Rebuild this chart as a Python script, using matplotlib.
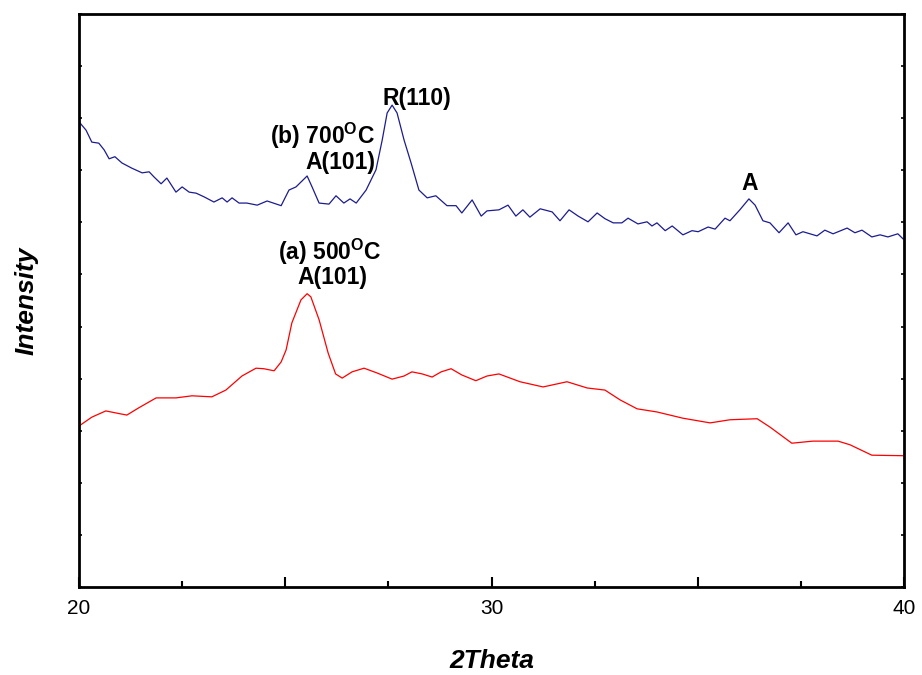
import matplotlib.pyplot as plt
from matplotlib.ticker import MultipleLocator, NullFormatter

plt.rcParams['font.family'] = ['Liberation Sans', 'DejaVu Sans']
plt.rcParams['mathtext.fontset'] = 'custom'
plt.rcParams['mathtext.bf'] = 'Liberation Sans:bold'
plt.rcParams['mathtext.rm'] = 'Liberation Sans:bold'

# (b) 700 C sample
theta_b = [20.00, 20.17, 20.31, 20.48, 20.61, 20.73, 20.87, 21.04, 21.28, 21.53,
           21.70, 21.82, 21.99, 22.13, 22.35, 22.50, 22.67, 22.84, 23.03, 23.27,
           23.47, 23.59, 23.71, 23.88, 24.07, 24.32, 24.56, 24.90, 25.09, 25.26,
           25.53, 25.65, 25.82, 26.06, 26.23, 26.42, 26.57, 26.72, 26.96, 27.20,
           27.35, 27.47, 27.59, 27.71, 27.88, 28.05, 28.24, 28.44, 28.65, 28.92,
           29.14, 29.28, 29.53, 29.75, 29.89, 30.18, 30.40, 30.59, 30.76, 30.93,
           31.18, 31.47, 31.66, 31.88, 32.10, 32.34, 32.56, 32.75, 32.95, 33.16,
           33.31, 33.55, 33.77, 33.89, 34.01, 34.21, 34.38, 34.64, 34.86, 35.01,
           35.25, 35.42, 35.66, 35.78, 36.02, 36.24, 36.39, 36.58, 36.75, 36.97,
           37.19, 37.38, 37.55, 37.89, 38.08, 38.28, 38.62, 38.81, 38.98, 39.22,
           39.42, 39.61, 39.85, 39.98]
int_b = [893, 877, 854, 852, 839, 822, 826, 814, 804, 795,
         797, 787, 774, 785, 758, 768, 758, 756, 749, 739,
         747, 739, 747, 737, 737, 733, 741, 732, 762, 768,
         789, 768, 737, 735, 751, 737, 745, 737, 762, 801,
         858, 910, 925, 910, 858, 814, 762, 747, 751, 732,
         732, 718, 743, 712, 722, 724, 733, 712, 724, 710,
         726, 720, 703, 724, 712, 701, 718, 707, 699, 699,
         708, 697, 701, 693, 699, 684, 693, 676, 684, 682,
         691, 687, 708, 703, 724, 745, 733, 703, 699, 680,
         699, 676, 682, 674, 685, 678, 689, 680, 685, 672,
         676, 672, 678, 668]

# (a) 500 C sample
theta_a = [20.00, 20.31, 20.65, 20.90, 21.16, 21.45, 21.87, 22.35, 22.74, 23.22,
           23.56, 23.95, 24.29, 24.48, 24.73, 24.90, 25.02, 25.16, 25.38, 25.53,
           25.62, 25.82, 26.04, 26.22, 26.38, 26.62, 26.91, 27.22, 27.59, 27.88,
           28.07, 28.32, 28.56, 28.78, 29.02, 29.28, 29.62, 29.89, 30.18, 30.69,
           31.25, 31.83, 32.32, 32.75, 33.12, 33.53, 34.01, 34.64, 35.30, 35.78,
           36.44, 36.75, 37.28, 37.79, 38.40, 38.69, 39.22, 39.98]
int_a = [309, 326, 338, 334, 330, 344, 363, 363, 367, 365,
         378, 405, 420, 419, 415, 432, 455, 507, 551, 563,
         557, 513, 449, 409, 401, 413, 420, 411, 399, 405,
         413, 409, 403, 413, 419, 407, 396, 405, 409, 394,
         384, 394, 382, 378, 359, 342, 336, 324, 315, 321,
         323, 307, 276, 280, 280, 273, 253, 252]


def main():
    fig = plt.figure(figsize=(9.22, 6.75), dpi=100)
    ax = fig.add_axes([0.0857, 0.1304, 0.8948, 0.8489])

    ax.plot(theta_b, int_b, color="#1c1c8f", lw=0.9)
    ax.plot(theta_a, int_a, color="#ff0000", lw=0.9)

    ax.set_xlim(20, 40)
    ax.set_ylim(0, 1100)
    ax.xaxis.set_minor_locator(MultipleLocator(2.5))
    ax.set_xticks([20, 25, 30, 35, 40])
    ax.set_xticklabels(["20", "", "30", "", "40"])
    ax.yaxis.set_major_locator(MultipleLocator(100))
    ax.yaxis.set_major_formatter(NullFormatter())
    ax.tick_params(axis="x", which="major", direction="in", length=7, width=1.5,
                   labelsize=15, pad=9, top=False)
    ax.tick_params(axis="x", which="minor", direction="in", length=4, width=1.5, top=False)
    ax.tick_params(axis="y", which="major", direction="in", length=2, width=1.2,
                   left=True, right=True)
    for s in ax.spines.values():
        s.set_linewidth(2)

    bold = dict(fontsize=16.5, fontweight="bold", ha="center", va="baseline")
    ax.text(28.18, 925, "R(110)", **bold)
    ax.text(25.90, 850, r"(b) 700$^{\mathbf{O}}$C", **bold)
    ax.text(26.33, 803, "A(101)", **bold)
    ax.text(36.27, 762, "A", **bold)
    ax.text(26.08, 628, r"(a) 500$^{\mathbf{O}}$C", **bold)
    ax.text(26.15, 582, "A(101)", **bold)

    ax.set_xlabel("2Theta", fontsize=19, fontweight="bold", style="italic", labelpad=22)
    ax.set_ylabel("Intensity", fontsize=19, fontweight="bold", style="italic", labelpad=26)

    fig.savefig("out.png", dpi=100)


if __name__ == '__main__':
    main()
